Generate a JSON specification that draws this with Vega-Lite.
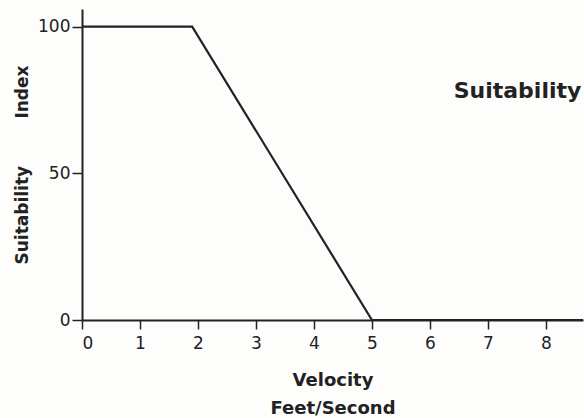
{
  "$schema": "https://vega.github.io/schema/vega-lite/v6.json",
  "autosize": {"type": "none"},
  "width": 501,
  "height": 311,
  "padding": {"left": 82, "top": 9, "right": 1, "bottom": 98},
  "background": "#fdfdfc",
  "config": {
    "view": {"stroke": null},
    "font": "DejaVu Sans",
    "axis": {
      "grid": false,
      "domainColor": "#222",
      "domainWidth": 2,
      "tickColor": "#222",
      "tickWidth": 1.5,
      "tickSize": 9,
      "labelColor": "#222",
      "titleColor": "#222",
      "labelFont": "DejaVu Sans",
      "titleFont": "DejaVu Sans",
      "labelFontSize": 17,
      "titleFontSize": 17,
      "titleFontWeight": "bold"
    }
  },
  "datasets": {
    "curve": [
      {"velocity": 0, "index": 100},
      {"velocity": 1.9, "index": 100},
      {"velocity": 5, "index": 0},
      {"velocity": 8.7, "index": 0}
    ],
    "note": [
      {"velocity": 6.41, "index": 78, "label": "Suitability"}
    ]
  },
  "layer": [
    {
      "data": {"name": "curve"},
      "mark": {"type": "line", "color": "#222", "strokeWidth": 2.2, "clip": true},
      "encoding": {
        "x": {
          "field": "velocity",
          "type": "quantitative",
          "scale": {"domain": [0, 8.64], "nice": false, "zero": false},
          "axis": {
            "values": [0, 1, 2, 3, 4, 5, 6, 7, 8],
            "format": "d",
            "labelPadding": 6,
            "title": ["Velocity", "Feet/Second"],
            "titleFontSize": 18,
            "titlePadding": 20,
            "titleLineHeight": 28
          }
        },
        "y": {
          "field": "index",
          "type": "quantitative",
          "scale": {"domain": [0, 106], "nice": false},
          "axis": {
            "values": [0, 50, 100],
            "labelPadding": 2,
            "tickSize": 10,
            "title": "Suitability\u00a0\u00a0\u00a0\u00a0\u00a0\u00a0\u00a0\u00a0Index",
            "titlePadding": 6
          }
        }
      }
    },
    {
      "data": {"name": "note"},
      "mark": {"type": "text", "align": "left", "baseline": "middle", "fontSize": 22, "fontWeight": "bold", "color": "#222", "font": "DejaVu Sans"},
      "encoding": {
        "x": {"field": "velocity", "type": "quantitative"},
        "y": {"field": "index", "type": "quantitative"},
        "text": {"field": "label"}
      }
    }
  ]
}
